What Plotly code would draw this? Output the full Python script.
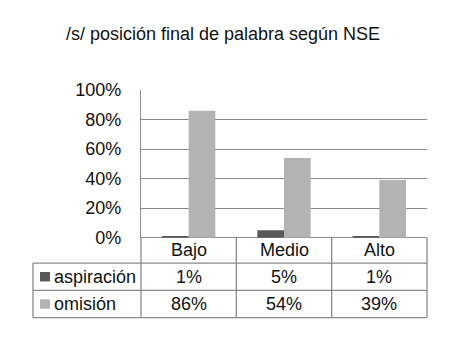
import plotly.graph_objects as go

categories = ["Bajo", "Medio", "Alto"]
series_names = ["aspiración", "omisión"]
aspiracion = [0.01, 0.05, 0.01]
omision = [0.86, 0.54, 0.39]
aspiracion_labels = ["1%", "5%", "1%"]
omision_labels = ["86%", "54%", "39%"]
y_ticks = [0, 0.2, 0.4, 0.6, 0.8, 1.0]
y_ticklabels = ["0%", "20%", "40%", "60%", "80%", "100%"]

W, H = 451, 338
COLORS = ["#595959", "#b3b3b3"]
LINE = "#8a8a8a"
FONT = dict(family="Liberation Sans", size=18, color="#111111")

# layout geometry in page pixels
PX_L, PX_R = 141, 427          # plot area left/right
PY_T, PY_B = 85, 242           # 100% and 0% lines
ROW_Y = [242, 269, 298, 327]   # data-table row boundaries
TABLE_L = 33


def px(x):
    return x / W


def py(y):
    return 1 - y / H


fig = go.Figure()
fig.add_trace(go.Bar(x=categories, y=aspiracion, name=series_names[0],
                     marker=dict(color=COLORS[0], line=dict(width=0))))
fig.add_trace(go.Bar(x=categories, y=omision, name=series_names[1],
                     marker=dict(color=COLORS[1], line=dict(width=0))))

shapes = []


def hline(x0, x1, y):
    shapes.append(dict(type="line", xref="paper", yref="paper",
                       x0=px(x0), x1=px(x1), y0=py(y), y1=py(y),
                       line=dict(color=LINE, width=1.3)))


def vline(x, y0, y1):
    shapes.append(dict(type="line", xref="paper", yref="paper",
                       x0=px(x), x1=px(x), y0=py(y0), y1=py(y1),
                       line=dict(color=LINE, width=1.3)))


n = len(categories)
col_edges = [PX_L + (PX_R - PX_L) * i / n for i in range(n + 1)]
for yy in ROW_Y[1:]:
    hline(TABLE_L, PX_R, yy)
for xx in col_edges:
    vline(xx, ROW_Y[0], ROW_Y[-1])
vline(TABLE_L, ROW_Y[1], ROW_Y[-1])

annotations = []
header_y = (ROW_Y[0] + ROW_Y[1]) / 2
for c in categories:
    annotations.append(dict(x=c, xref="x", y=py(header_y), yref="paper",
                            text=c, showarrow=False, font=FONT,
                            xanchor="center", yanchor="middle"))
rows = [aspiracion_labels, omision_labels]
for r, (name, labels) in enumerate(zip(series_names, rows)):
    cy = (ROW_Y[r + 1] + ROW_Y[r + 2]) / 2
    for c, lab in zip(categories, labels):
        annotations.append(dict(x=c, xref="x", y=py(cy), yref="paper",
                                text=lab, showarrow=False, font=FONT,
                                xanchor="center", yanchor="middle"))
    annotations.append(dict(x=px(52), xref="paper", y=py(cy), yref="paper",
                            text=name, showarrow=False, font=FONT,
                            xanchor="left", yanchor="middle"))
    shapes.append(dict(type="rect", xref="paper", yref="paper",
                       x0=px(40), x1=px(50), y0=py(cy - 5), y1=py(cy + 5),
                       fillcolor=COLORS[r], line=dict(width=0)))

fig.update_layout(
    width=W, height=H, autosize=False,
    margin=dict(l=0, r=0, t=0, b=0),
    paper_bgcolor="white", plot_bgcolor="white",
    font=FONT,
    showlegend=False,
    barmode="group", bargap=0.44, bargroupgap=0,
    title=dict(text="/s/ posición final de palabra según NSE", x=px(223), y=py(25),
               xref="paper", yref="paper", xanchor="center", yanchor="middle",
               font=FONT),
    xaxis=dict(domain=[px(PX_L), px(PX_R)], showticklabels=False, ticks="",
               showgrid=False, showline=False, zeroline=False, fixedrange=True),
    yaxis=dict(domain=[py(PY_B), py(PY_T)], range=[0, 1], tickvals=y_ticks,
               ticktext=y_ticklabels, showgrid=True, gridcolor=LINE, gridwidth=1.3,
               showline=True, linecolor=LINE, linewidth=1.3,
               zeroline=True, zerolinecolor=LINE, zerolinewidth=1.3,
               ticks="", ticklabelstandoff=15, tickfont=FONT, fixedrange=True),
    shapes=shapes, annotations=annotations,
)

fig.write_html(
    "out.html",
    config={"displayModeBar": False},
    post_script="document.body.style.margin='0';document.body.style.overflow='hidden';"
                "document.documentElement.style.overflow='hidden';",
)
